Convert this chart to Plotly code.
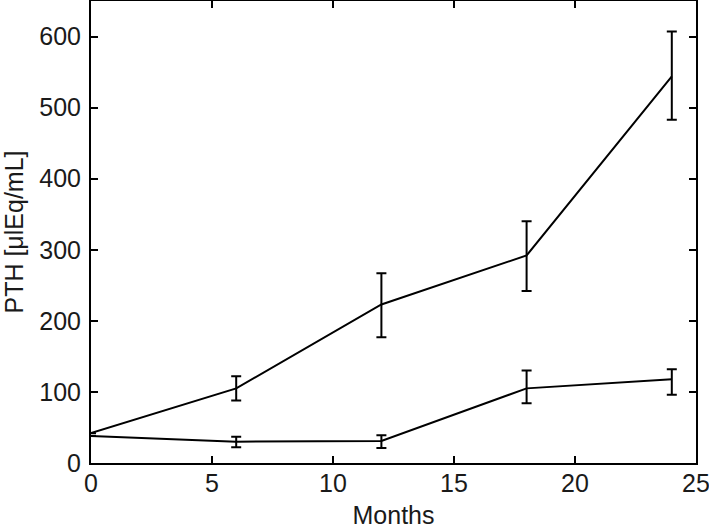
import plotly.graph_objects as go

months = [0, 6, 12, 18, 24]

upper = [42, 105, 223, 292, 544]
upper_hi = [0, 17, 44, 48, 63]
upper_lo = [0, 17, 46, 50, 61]

lower = [38, 30, 31, 105, 118]
lower_hi = [0, 7, 8, 25, 14]
lower_lo = [0, 8, 10, 21, 22]

fnt = 'Liberation Sans, Arial'
txt = '#1a1a1a'

fig = go.Figure()
for y, hi, lo in [(upper, upper_hi, upper_lo), (lower, lower_hi, lower_lo)]:
    # first point has no error bar in the original
    hi = [h if h else None for h in hi]
    lo = [v if v else None for v in lo]
    fig.add_trace(go.Scatter(
        x=months, y=y, mode='lines',
        line=dict(color='black', width=2),
        error_y=dict(type='data', symmetric=False, array=hi, arrayminus=lo,
                     color='black', thickness=2, width=5),
        showlegend=False
    ))

axis_style = dict(showline=True, linecolor='black', linewidth=2, mirror='ticks',
                  ticks='inside', ticklen=7, tickwidth=1.5, tickcolor='black',
                  showgrid=False, zeroline=False, automargin=False,
                  ticklabeloverflow='allow',
                  tickfont=dict(family=fnt, size=25, color=txt))

fig.update_xaxes(range=[0, 25], dtick=5, ticklabelstandoff=-3,
                 title=dict(text='Months', standoff=10,
                            font=dict(family=fnt, size=25, color=txt)),
                 **axis_style)
fig.update_yaxes(range=[0, 650], dtick=100, ticklabelstandoff=3,
                 title=dict(text='PTH [μlEq/mL]', standoff=12,
                            font=dict(family=fnt, size=25, color=txt)),
                 **axis_style)

fig.update_layout(width=709, height=529, margin=dict(l=91, r=13, t=1, b=66),
                  plot_bgcolor='white', paper_bgcolor='white')

# page body has an 8px default margin; drop it so the figure sits at the corner
fig.write_html("out.html", config={'displayModeBar': False},
               post_script="document.body.style.margin='0';")
